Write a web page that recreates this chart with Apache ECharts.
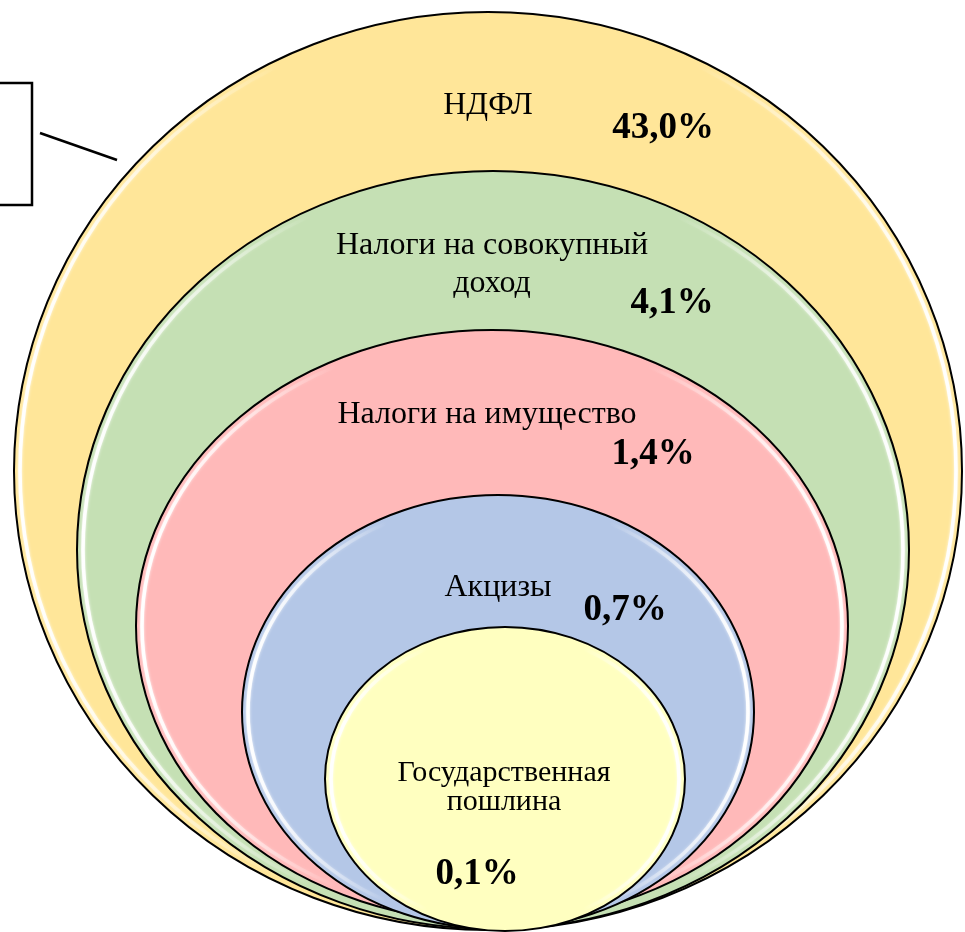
<!DOCTYPE html>
<html>
<head>
<meta charset="utf-8">
<script src="https://cdn.jsdelivr.net/npm/echarts@6/dist/echarts.min.js"></script>
<style>
html,body{margin:0;padding:0;background:#fff;}
#main{width:965px;height:932px;}
</style>
</head>
<body>
<div id="main"></div>
<script>
// ---- data ----
const names = ['НДФЛ', 'Налоги на совокупный\nдоход', 'Налоги на имущество', 'Акцизы', 'Государственная\nпошлина'];
const values = [43.0, 4.1, 1.4, 0.7, 0.1];

// ---- layout (diagram units = pixels of the 965x932 canvas) ----
const ellCx = [488, 493, 492, 498, 505];
const ellCy = [471, 550, 626, 712, 779];
const ellRx = [474, 416, 356, 256, 180];
const ellRy = [459, 379, 296, 217, 152];
const namePos = [[488, 106], [492, 265], [487, 415], [498, 588], [504, 788]];
const nameSize = [32, 32, 32, 32, 30];
const nameLine = [38, 38, 38, 38, 29];
const valuePos = [[663, 128], [672, 303], [653, 454], [625, 610], [477, 874]];
const colors = ['#FFE699', '#C5E0B4', '#FFB9B9', '#B4C7E7', '#FFFFC0'];

function fmt(v) { return v.toFixed(1).replace('.', ',') + '%'; }
function ellipsePath(cx, cy, rx, ry) {
  return 'M' + (cx - rx) + ',' + cy + ' A' + rx + ',' + ry + ' 0 1,0 ' + (cx + rx) + ',' + cy +
         ' A' + rx + ',' + ry + ' 0 1,0 ' + (cx - rx) + ',' + cy + ' Z';
}

const shapeData = names.map((n, i) => [ellCx[i], ellCy[i], ellRx[i], ellRy[i]]);
const labelData = names.map((n, i) => [namePos[i][0], namePos[i][1], valuePos[i][0], valuePos[i][1]]);

const chart = echarts.init(document.getElementById('main'), null, { renderer: 'canvas' });
chart.setOption({
  backgroundColor: '#ffffff',
  animation: false,
  grid: { left: 0, right: 0, top: 0, bottom: 0 },
  xAxis: { type: 'value', min: 0, max: 965, show: false },
  yAxis: { type: 'value', min: 0, max: 932, inverse: true, show: false },
  graphic: [
    { type: 'rect', shape: { x: -10, y: 83, width: 42, height: 122 },
      style: { fill: 'none', stroke: '#000', lineWidth: 2.5 }, z: 10 },
    { type: 'line', shape: { x1: 40, y1: 133, x2: 117, y2: 160 },
      style: { stroke: '#000', lineWidth: 2.5 }, z: 10 }
  ],
  series: [
    {
      type: 'custom',
      coordinateSystem: 'cartesian2d',
      data: shapeData,
      z: 2,
      renderItem: function (params, api) {
        const i = params.dataIndex;
        const c = api.coord([api.value(0), api.value(1)]);
        const s = api.size([api.value(2), api.value(3)], [api.value(0), api.value(1)]);
        const rx = s[0], ry = s[1];
        const inset = 6;
        return {
          type: 'group',
          children: [
            { type: 'path', shape: { pathData: ellipsePath(c[0], c[1], rx, ry) },
              style: { fill: colors[i], stroke: '#000', lineWidth: 2 } },
            { type: 'path', shape: { pathData: ellipsePath(c[0], c[1], rx - inset, ry - inset) },
              style: {
                fill: 'none', lineWidth: 3.5,
                stroke: new echarts.graphic.LinearGradient(0, 0, 1, 0, [
                  { offset: 0, color: 'rgba(255,255,255,1)' },
                  { offset: 0.28, color: 'rgba(255,255,255,0)' },
                  { offset: 0.72, color: 'rgba(255,255,255,0)' },
                  { offset: 1, color: 'rgba(255,255,255,1)' }
                ]),
                shadowBlur: 3, shadowColor: 'rgba(255,255,255,0.9)'
              } }
          ]
        };
      }
    },
    {
      type: 'custom',
      coordinateSystem: 'cartesian2d',
      data: labelData,
      z: 5,
      renderItem: function (params, api) {
        const i = params.dataIndex;
        const p1 = api.coord([api.value(0), api.value(1)]);
        const p2 = api.coord([api.value(2), api.value(3)]);
        return {
          type: 'group',
          children: [
            { type: 'text', style: { text: names[i], x: p1[0], y: p1[1], align: 'center', verticalAlign: 'middle',
                font: 'normal ' + nameSize[i] + 'px "Liberation Serif", "Times New Roman", serif', fill: '#000', lineHeight: nameLine[i] } },
            { type: 'text', style: { text: fmt(values[i]), x: p2[0], y: p2[1], align: 'center', verticalAlign: 'middle',
                font: 'bold 37px "Liberation Serif", "Times New Roman", serif', fill: '#000' } }
          ]
        };
      }
    }
  ]
});
</script>
</body>
</html>
